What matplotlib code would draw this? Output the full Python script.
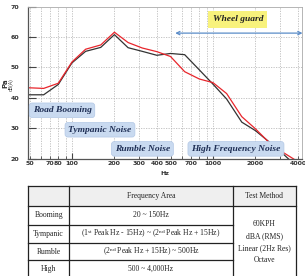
import numpy as np
import matplotlib
import matplotlib.pyplot as plt
from matplotlib.ticker import FixedLocator, FuncFormatter

plt.rcParams['mathtext.fontset'] = 'custom'
plt.rcParams['mathtext.rm'] = 'Liberation Serif'
plt.rcParams['mathtext.it'] = 'Liberation Serif:italic'

# 1/3 octave band centres (Hz) and levels dB(A)
freqs = [50, 63, 80, 100, 125, 160, 200, 250, 315, 400, 500, 630,
         800, 1000, 1250, 1600, 2000, 2500, 3150, 4000]
black_db = [41.0, 41.0, 44.4, 51.5, 55.3, 56.6, 60.8, 56.5, 55.3, 54.0,
            54.6, 54.2, 49.2, 44.5, 39.6, 32.0, 29.2, 25.5, 21.5, 17.0]
red_db = [43.3, 43.1, 44.8, 51.8, 56.0, 57.4, 61.6, 58.2, 56.4, 55.2,
          53.6, 48.6, 46.2, 45.0, 41.4, 33.8, 29.8, 25.3, 22.0, 19.0]

xtick_labels = [50, 70, 80, 100, 200, 300, 400, 500, 700, 1000, 2000, 4000]
yticks = [20, 30, 40, 50, 60, 70]

# noise region labels: (text, centre Hz, centre dB)
regions = [('Road Booming', 85, 35.9),
           ('Tympanic Noise', 158, 29.5),
           ('Rumble Noise', 316, 23.2),
           ('High Frequency Noise', 1455, 23.2)]

# table contents
table_header = ['', 'Frequency Area', 'Test Method']
row_names = ['Booming', 'Tympanic', 'Rumble', 'High']
freq_areas = ['20 ~ 150Hz',
              r'(1$^{\mathrm{st}}$ Peak Hz - 15Hz) ~ (2$^{\mathrm{nd}}$ Peak Hz + 15Hz)',
              r'(2$^{\mathrm{nd}}$ Peak Hz + 15Hz) ~ 500Hz',
              '500 ~ 4,000Hz']
test_method = ['60KPH', 'dBA (RMS)', 'Linear (2Hz Res)', 'Octave']

fig = plt.figure(figsize=(3.05, 2.76), dpi=100)

# ---- table, drawn in figure pixel coordinates ----
tax = fig.add_axes([0, 0, 1, 1])
tax.set_xlim(0, 305)
tax.set_ylim(276, 0)
tax.axis('off')
col_x = [28, 69.3, 232.7, 296]
row_y = [186, 205.7, 224.5, 242.7, 260.3, 277]
lc = '#222222'
tax.add_patch(plt.Rectangle((col_x[0], row_y[0]), col_x[3] - col_x[0], row_y[1] - row_y[0],
                            facecolor='#efefef', edgecolor='none'))
for x in col_x:
    tax.plot([x, x], [row_y[0], row_y[-1]], color=lc, lw=0.9)
for i, y in enumerate(row_y[:-1]):
    x1 = col_x[3] if i <= 1 else col_x[2]
    tax.plot([col_x[0], x1], [y, y], color=lc, lw=0.9)
tfont = dict(family='Liberation Serif', fontsize=5.5, color='#222222', ha='center', va='center')
hy = (row_y[0] + row_y[1]) / 2
tax.text((col_x[1] + col_x[2]) / 2, hy, table_header[1], **tfont)
tax.text((col_x[2] + col_x[3]) / 2, hy, table_header[2], **tfont)
for i in range(len(row_names)):
    cy = (row_y[i + 1] + row_y[i + 2]) / 2
    tax.text((col_x[0] + col_x[1]) / 2, cy, row_names[i], **tfont)
    tax.text((col_x[1] + col_x[2]) / 2, cy, freq_areas[i], **tfont)
for i, s in enumerate(test_method):
    tax.text((col_x[2] + col_x[3]) / 2, 224.3 + i * 12, s, **tfont)

# ---- chart ----
ax = fig.add_axes([0.0902, 0.4254, 0.9016, 0.5504])
ax.set_xscale('log')
ax.plot(freqs, black_db, color='#333333', lw=0.9)
ax.plot(freqs, red_db, color='#e8262c', lw=0.9)
ax.set_xlim(48.4, 4313)
ax.set_ylim(20, 70)

minor = [m * 10 ** e for e in (1, 2, 3) for m in range(1, 10) if 48 < m * 10 ** e < 4313]
ax.xaxis.set_major_locator(FixedLocator([100, 1000]))
ax.xaxis.set_minor_locator(FixedLocator([v for v in minor if v not in (100, 1000)]))
fmt = FuncFormatter(lambda v, p: '%d' % round(v) if round(v) in xtick_labels else '')
ax.xaxis.set_major_formatter(fmt)
ax.xaxis.set_minor_formatter(fmt)
ax.tick_params(axis='x', which='both', direction='in', pad=2, labelsize=4.5,
               colors='#444444', labelcolor='#333333')
ax.tick_params(axis='x', which='major', length=4)
ax.tick_params(axis='x', which='minor', length=2.2)
for lab in ax.get_xticklabels(which='both'):
    lab.set_fontweight('bold')

ax.set_yticks(yticks)
ax.tick_params(axis='y', direction='in', length=6, pad=6, labelsize=4.5,
               colors='#444444', labelcolor='#333333')
for lab in ax.get_yticklabels():
    lab.set_fontweight('bold')

for v in minor:
    ax.axvline(v, color='#bbbbbb', lw=0.6, ls=(0, (1.5, 1.5)), zorder=0)
for v in yticks[1:-1]:
    ax.axhline(v, color='#bbbbbb', lw=0.6, ls=(0, (1.5, 1.5)), zorder=0)

for side in ('left', 'bottom'):
    ax.spines[side].set_color('#555555')
    ax.spines[side].set_linewidth(0.9)
for side in ('top', 'right'):
    ax.spines[side].set_color('#aaaaaa')
    ax.spines[side].set_linewidth(0.6)

ax.set_xlabel('Hz', fontsize=4.5, fontweight='bold', color='#333333', labelpad=3)
fig.text(0.016, 0.700, 'Pa', rotation=90, fontsize=5, fontweight='bold',
         color='#333333', ha='center', va='center')
fig.text(0.038, 0.695, 'dB(A)', rotation=90, fontsize=3.3,
         color='#333333', ha='center', va='center')

for text, fx, fy in regions:
    ax.text(fx, fy, text, fontsize=6.8, family='Liberation Serif', fontweight='bold',
            style='italic', color='#1f2f55', ha='center', va='center', zorder=5,
            bbox=dict(boxstyle='round,pad=0.35,rounding_size=0.3',
                      facecolor='#c9daf0', edgecolor='#b3c8e6', lw=0.5))

ax.text(1503, 65.8, 'Wheel guard', fontsize=6.8, family='Liberation Serif',
        fontweight='bold', style='italic', color='#222222', ha='center', va='center',
        bbox=dict(boxstyle='square,pad=0.45', facecolor='#f8f27c', edgecolor='none'))
ax.annotate('', xy=(4313, 61.3), xytext=(540, 61.3), annotation_clip=False,
            arrowprops=dict(arrowstyle='<->', color='#5b8cc8', lw=0.9,
                            shrinkA=0, shrinkB=0, mutation_scale=6))

fig.savefig('out.png', dpi=100)
